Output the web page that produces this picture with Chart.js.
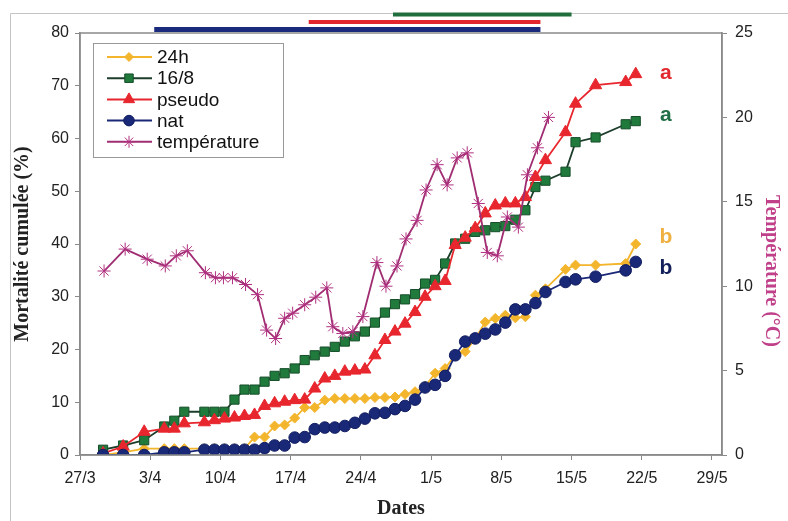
<!DOCTYPE html>
<html>
<head>
<meta charset="utf-8">
<script src="https://cdn.jsdelivr.net/npm/chart.js@4.4.1/dist/chart.umd.min.js"></script>
<style>
  html, body { margin: 0; padding: 0; background: #fff; }
  #wrap { width: 788px; height: 521px; }
</style>
</head>
<body>
<div id="wrap"><canvas id="chart" width="788" height="521"></canvas></div>
<script>
// jours depuis le 27/3
const dateTicks = ['27/3', '3/4', '10/4', '17/4', '24/4', '1/5', '8/5', '15/5', '22/5', '29/5'];

const obsDays = [2.3, 4.3, 6.4, 8.4, 9.4, 10.4, 12.4, 13.4, 14.4, 15.4, 16.4, 17.4, 18.4, 19.4, 20.4,
  21.4, 22.4, 23.4, 24.4, 25.4, 26.4, 27.4, 28.4, 29.4, 30.4, 31.4, 32.4, 33.4, 34.4, 35.4, 36.4,
  37.4, 38.4, 39.4, 40.4, 41.4, 42.4, 43.4, 44.4, 45.4, 46.4, 48.4, 49.4, 51.4, 54.4, 55.4];

const mort24h = [0.0, 0.5, 1.2, 1.2, 1.2, 1.2, 1.2, 1.2, 1.2, 1.2, 1.2, 3.4, 3.4, 5.5, 5.7,
  7.0, 9.0, 9.0, 10.4, 10.7, 10.7, 10.7, 10.7, 10.9, 10.9, 11.0, 11.5, 12.0, 13.0, 15.5, 16.4,
  19.0, 19.6, 22.0, 25.2, 25.9, 26.5, 26.0, 26.2, 30.3, 31.5, 35.2, 36.0, 36.0, 36.3, 40.0];

const mort168 = [1.0, 1.8, 2.8, 5.4, 6.5, 8.2, 8.2, 8.2, 8.2, 10.5, 12.4, 12.4, 13.9, 15.0, 15.5,
  16.4, 18.0, 18.9, 19.6, 20.5, 21.5, 22.5, 23.4, 25.1, 27.0, 28.6, 29.5, 30.5, 32.5, 33.2, 36.3,
  40.1, 41.0, 42.3, 42.6, 43.2, 43.4, 44.6, 46.4, 50.8, 52.0, 53.7, 59.3, 60.2, 62.7, 63.3];

const mortPseudo = [0.3, 1.6, 4.4, 5.0, 5.0, 6.0, 6.2, 6.6, 6.9, 7.1, 7.4, 7.6, 9.3, 9.8, 10.1,
  10.4, 10.5, 12.6, 14.5, 15.0, 15.8, 16.0, 16.2, 18.9, 21.8, 23.4, 24.9, 27.1, 30.0, 32.0, 33.0,
  39.8, 41.2, 43.0, 45.8, 47.3, 47.7, 47.7, 48.9, 52.7, 55.9, 61.2, 66.6, 70.1, 70.7, 72.2];

const mortNat = [0.0, 0.0, 0.0, 0.5, 0.5, 0.5, 1.0, 1.0, 1.0, 1.0, 1.0, 1.0, 1.3, 1.8, 1.8,
  3.3, 3.4, 4.9, 5.2, 5.2, 5.5, 6.1, 6.9, 7.9, 8.0, 8.7, 9.3, 10.5, 12.8, 13.3, 15.0,
  18.9, 21.5, 22.1, 23.0, 23.8, 25.1, 27.6, 27.6, 28.8, 30.9, 32.8, 33.3, 33.8, 35.0, 36.6];

const tempDays = [2.4, 4.5, 6.7, 8.5, 9.6, 10.7, 12.5, 13.5, 14.3, 15.2, 16.5, 17.7, 18.6, 19.5,
  20.4, 21.2, 22.4, 23.5, 24.6, 25.2, 26.2, 27.2, 28.2, 29.6, 30.5, 31.6, 32.5, 33.6, 34.5, 35.6,
  36.6, 37.6, 38.6, 39.7, 40.6, 41.6, 42.6, 43.7, 44.6, 45.6, 46.7];
const tempValues = [10.9, 12.2, 11.6, 11.2, 11.8, 12.1, 10.8, 10.5, 10.5, 10.5, 10.1, 9.5, 7.4, 6.9,
  8.1, 8.4, 8.9, 9.35, 9.9, 7.6, 7.2, 7.3, 8.2, 11.4, 10.0, 11.2, 12.8, 13.9, 15.7, 17.2,
  16.0, 17.6, 17.9, 14.9, 12.0, 11.8, 14.1, 13.5, 16.6, 18.2, 20.0];

// barres de période au-dessus du graphique (jours)
const periodStart = [31.2, 22.8, 7.4];
const periodEnd = [49.0, 45.9, 45.9];
const periodColor = ['#1f6e3c', '#e2262e', '#1a2a7c'];

// lettres de significativité
const sigLetters = ['a', 'a', 'b', 'b'];
const sigValues = [72, 64, 41, 35];
const sigColors = ['#e2262e', '#1f6e45', '#f0b040', '#13205a'];
const sigDay = 58.4;

const C24 = '#f3b52c', C168 = '#1f7a3c', CPS = '#e8262e', CNAT = '#1a2878', CTEMP = '#b03080';

function pts(xs, ys) { return xs.map((x, i) => ({ x: x, y: ys[i] })); }

const extras = {
  id: 'extras',
  beforeDraw(chart) {
    const ctx = chart.ctx;
    ctx.save();
    ctx.strokeStyle = '#c4c4c4';
    ctx.lineWidth = 1;
    ctx.beginPath();
    ctx.moveTo(10.5, 521); ctx.lineTo(10.5, 13.5); ctx.lineTo(788, 13.5);
    ctx.stroke();
    ctx.restore();
  },
  afterDatasetsDraw(chart) {
    const ctx = chart.ctx, a = chart.chartArea, x = chart.scales.x, y = chart.scales.y;
    ctx.save();
    // cadre
    ctx.strokeStyle = '#8a8a8a';
    ctx.lineWidth = 1.5;
    ctx.strokeRect(a.left, a.top, a.right - a.left, a.bottom - a.top);
    // périodes
    const rows = [[12.5, 4], [20, 4], [27, 5]];
    periodStart.forEach((s, i) => {
      const x0 = x.getPixelForValue(s), x1 = x.getPixelForValue(periodEnd[i]);
      ctx.fillStyle = periodColor[i];
      ctx.fillRect(x0, rows[i][0], x1 - x0, rows[i][1]);
    });
    // lettres
    ctx.font = 'bold 21px "Liberation Sans", Arial, sans-serif';
    ctx.textAlign = 'center';
    ctx.textBaseline = 'middle';
    sigLetters.forEach((t, i) => {
      ctx.fillStyle = sigColors[i];
      ctx.fillText(t, x.getPixelForValue(sigDay), y.getPixelForValue(sigValues[i]) - 2);
    });
    // légende
    const lx = 93, ly = 43, lw = 190, lh = 114;
    ctx.fillStyle = '#fff';
    ctx.fillRect(lx, ly, lw, lh);
    ctx.strokeStyle = '#999';
    ctx.lineWidth = 1;
    ctx.strokeRect(lx + 0.5, ly + 0.5, lw, lh);
    ctx.font = '19px "Liberation Sans", Arial, sans-serif';
    ctx.textAlign = 'left';
    chart.data.datasets.forEach((ds, i) => {
      const yy = 57 + i * 21.2;
      ctx.strokeStyle = ds.borderColor;
      ctx.lineWidth = 2;
      ctx.beginPath(); ctx.moveTo(107, yy); ctx.lineTo(152, yy); ctx.stroke();
      ctx.fillStyle = ds.pointBackgroundColor;
      ctx.strokeStyle = ds.pointBorderColor;
      ctx.lineWidth = ds.pointBorderWidth;
      Chart.helpers.drawPoint(ctx, {
        pointStyle: ds.pointStyle, radius: ds.pointRadius - 0.5, borderWidth: ds.pointBorderWidth
      }, 129, yy);
      ctx.fillStyle = '#111';
      ctx.fillText(ds.label, 157, yy + 1);
    });
    // titre axe droit
    ctx.save();
    ctx.translate(771, 271);
    ctx.rotate(Math.PI / 2);
    ctx.font = 'bold 20px "Liberation Serif", "Times New Roman", serif';
    ctx.fillStyle = '#c0408a';
    ctx.textAlign = 'center';
    ctx.fillText('Température (°C)', 0, 0);
    ctx.restore();
    ctx.restore();
  }
};

function series(label, data, color, line, style, radius, border, order, axis) {
  return {
    label: label, data: data, yAxisID: axis || 'y', order: order,
    borderColor: line, borderWidth: 1.8, tension: 0,
    pointStyle: style, pointRadius: radius, pointHoverRadius: radius,
    pointBackgroundColor: color, pointBorderColor: border, pointBorderWidth: 1
  };
}

const tickFont = { family: '"Liberation Sans", Arial, sans-serif', size: 16 };
const gridOpts = { drawOnChartArea: false, drawTicks: true, tickLength: 5, color: '#8a8a8a' };

new Chart(document.getElementById('chart'), {
  type: 'line',
  data: {
    datasets: [
      series('24h', pts(obsDays, mort24h), C24, C24, 'rectRot', 5, C24, 5),
      series('16/8', pts(obsDays, mort168), C168, '#1d3d2b', 'rect', 6.5, '#174d2a', 4),
      series('pseudo', pts(obsDays, mortPseudo), CPS, CPS, 'triangle', 7, CPS, 3),
      series('nat', pts(obsDays, mortNat), CNAT, CNAT, 'circle', 5.8, '#101c60', 2),
      series('température', pts(tempDays, tempValues), CTEMP, '#a02d72', 'star', 6.5, CTEMP, 1, 'y1')
    ]
  },
  options: {
    responsive: false,
    animation: false,
    layout: { padding: { top: 33, left: 0, right: 0, bottom: 0 } },
    plugins: { legend: { display: false }, tooltip: { enabled: false } },
    scales: {
      x: {
        type: 'linear', min: 0, max: 64,
        grid: gridOpts,
        border: { display: true, color: '#8a8a8a', width: 1.5 },
        ticks: {
          stepSize: 7, includeBounds: false, autoSkip: false,
          color: '#222', font: tickFont, padding: 9, maxRotation: 0,
          callback: v => dateTicks[Math.round(v / 7)]
        },
        title: {
          display: true, text: 'Dates', color: '#222',
          font: { family: '"Liberation Serif", "Times New Roman", serif', size: 20, weight: 'bold' },
          padding: { top: 5, bottom: 0 }
        },
        afterFit: s => { s.height = 66; }
      },
      y: {
        position: 'left', min: 0, max: 80,
        grid: gridOpts,
        border: { display: true, color: '#8a8a8a', width: 1.5 },
        ticks: { stepSize: 10, color: '#222', font: tickFont, padding: 6 },
        title: {
          display: true, text: 'Mortalité cumulée (%)', color: '#222',
          font: { family: '"Liberation Serif", "Times New Roman", serif', size: 20, weight: 'bold' },
          padding: { top: 11, bottom: 0 }
        },
        afterFit: s => { s.width = 80; }
      },
      y1: {
        position: 'right', min: 0, max: 25,
        grid: gridOpts,
        border: { display: true, color: '#8a8a8a', width: 1.5 },
        ticks: { stepSize: 5, color: '#222', font: tickFont, padding: 8 },
        afterFit: s => { s.width = 66; }
      }
    }
  },
  plugins: [extras]
});
</script>
</body>
</html>
